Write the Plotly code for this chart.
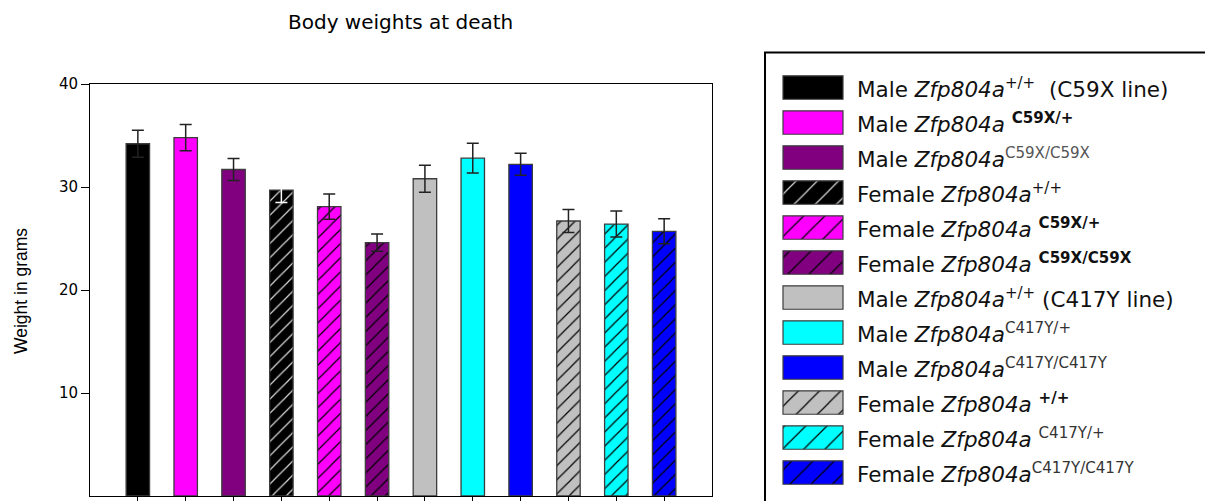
import plotly.graph_objects as go

# ---------------- data ----------------
groups = [
    "Male +/+ (C59X line)", "Male C59X/+", "Male C59X/C59X",
    "Female +/+ (C59X line)", "Female C59X/+", "Female C59X/C59X",
    "Male +/+ (C417Y line)", "Male C417Y/+", "Male C417Y/C417Y",
    "Female +/+ (C417Y line)", "Female C417Y/+", "Female C417Y/C417Y",
]
weights = [34.2, 34.8, 31.7, 29.7, 28.1, 24.6, 30.8, 32.8, 32.2, 26.7, 26.4, 25.7]
sem = [1.3, 1.27, 1.07, 1.2, 1.23, 0.83, 1.3, 1.44, 1.07, 1.12, 1.26, 1.22]
colors = ["#000000", "#ff00ff", "#800080", "#000000", "#ff00ff", "#800080",
          "#c0c0c0", "#00ffff", "#0000ff", "#c0c0c0", "#00ffff", "#0000ff"]
hatched = [False, False, False, True, True, True,
           False, False, False, True, True, True]
legend_labels = [
    "Male <i>Zfp804a</i><sup>+/+</sup>  (C59X line)",
    "Male <i>Zfp804a</i> <sup><b>C59X/+</b></sup>",
    "Male <i>Zfp804a</i><sup><span style='color:#555'>C59X/C59X</span></sup>",
    "Female <i>Zfp804a</i><sup>+/+</sup>",
    "Female <i>Zfp804a</i> <sup><b>C59X/+</b></sup>",
    "Female <i>Zfp804a</i> <sup><b>C59X/C59X</b></sup>",
    "Male <i>Zfp804a</i><sup>+/+</sup> (C417Y line)",
    "Male <i>Zfp804a</i><sup><span style='color:#333'>C417Y/+</span></sup>",
    "Male <i>Zfp804a</i><sup><span style='color:#333'>C417Y/C417Y</span></sup>",
    "Female <i>Zfp804a</i> <sup><b>+/+</b></sup>",
    "Female <i>Zfp804a</i> <sup><span style='color:#333'>C417Y/+</span></sup>",
    "Female <i>Zfp804a</i><sup><span style='color:#333'>C417Y/C417Y</span></sup>",
]
y_ticks = [10, 20, 30, 40]
title_text = "Body weights at death"
y_title = "Weight in grams"

W, H = 1205, 501


def hatch_fg(c):
    return "#d8d8d8" if c == "#000000" else "#000000"


fig = go.Figure()

# ---------------- main bars ----------------
for i, g in enumerate(groups):
    c = colors[i]
    fig.add_trace(go.Bar(
        x=[i], y=[weights[i]], width=0.49, name=g, showlegend=False,
        marker=dict(
            color=c,
            line=dict(color="#3c3c3c", width=1.3),
            pattern=dict(shape="/" if hatched[i] else "", fgcolor=hatch_fg(c),
                         bgcolor=c, size=10, solidity=0.12, fillmode="replace"),
        ),
        error_y=dict(type="data", array=[sem[i]], visible=True,
                     color="#ffffff" if (hatched[i] and c == "#000000") else "#222222",
                     thickness=1.5, width=6),
        xaxis="x", yaxis="y",
    ))

# ---------------- legend swatches (own axes) ----------------
for i, g in enumerate(groups):
    c = colors[i]
    fig.add_trace(go.Bar(
        y=[i], x=[60], base=783, orientation="h", width=0.67, name=g,
        showlegend=False, xaxis="x2", yaxis="y2", hoverinfo="skip",
        marker=dict(
            color=c,
            line=dict(color="#3c3c3c", width=1.2),
            pattern=dict(shape="/" if hatched[i] else "", fgcolor=hatch_fg(c),
                         bgcolor=c, size=15, solidity=0.08, fillmode="replace"),
        ),
    ))

annotations = []
for i, lab in enumerate(legend_labels):
    annotations.append(dict(
        x=855, y=i, xref="x2", yref="y2", text=lab, showarrow=False,
        xanchor="left", yanchor="middle",
        font=dict(family="DejaVu Sans", size=21.5, color="#111111"),
    ))

annotations.append(dict(
    x=400.5 / W, y=1 - 22 / H, xref="paper", yref="paper", text=title_text,
    showarrow=False, xanchor="center", yanchor="middle",
    font=dict(family="DejaVu Sans", size=20, color="#000000"),
))
annotations.append(dict(
    x=21 / W, y=1 - 291 / H, xref="paper", yref="paper", text=y_title,
    showarrow=False, xanchor="center", yanchor="middle", textangle=-90,
    font=dict(family="Liberation Sans, Arial", size=17.5, color="#000000"),
))

fig.update_layout(
    width=W, height=H, autosize=False,
    margin=dict(l=0, r=0, t=0, b=0, pad=0, autoexpand=False),
    paper_bgcolor="white", plot_bgcolor="white",
    barmode="overlay",
    showlegend=False,
    xaxis=dict(domain=[90 / W, 712 / W], range=[-1, 12], tickvals=list(range(len(groups))),
               showticklabels=False, ticks="outside", ticklen=8, tickcolor="#000",
               showline=True, linecolor="#000", linewidth=1, mirror=True,
               showgrid=False, zeroline=False, anchor="y", fixedrange=True,
               automargin=False),
    yaxis=dict(domain=[(H - 496) / H, (H - 84) / H], range=[0, 40], tickvals=y_ticks,
               ticks="outside", ticklen=8, tickcolor="#000",
               tickfont=dict(family="DejaVu Sans", size=15, color="#000"),
               showline=True, linecolor="#000", linewidth=1, mirror=True,
               showgrid=False, zeroline=False, anchor="x", fixedrange=True,
               automargin=False),
    xaxis2=dict(domain=[765 / W, 1], range=[765, 1205], visible=False,
                anchor="y2", fixedrange=True, automargin=False),
    yaxis2=dict(domain=[0, 1], range=[11.814, -2.5], visible=False,
                anchor="x2", fixedrange=True, automargin=False),
    annotations=annotations,
    shapes=[dict(type="rect", xref="paper", yref="paper",
                 x0=765 / W, x1=1.02, y0=-0.02, y1=(H - 52.5) / H,
                 line=dict(color="#000", width=2), fillcolor="rgba(0,0,0,0)",
                 layer="below")],
)

fig.write_html(
    "out.html",
    config={"displayModeBar": False, "staticPlot": True},
    post_script="document.body.style.margin='0';document.body.style.overflow='hidden';",
)
